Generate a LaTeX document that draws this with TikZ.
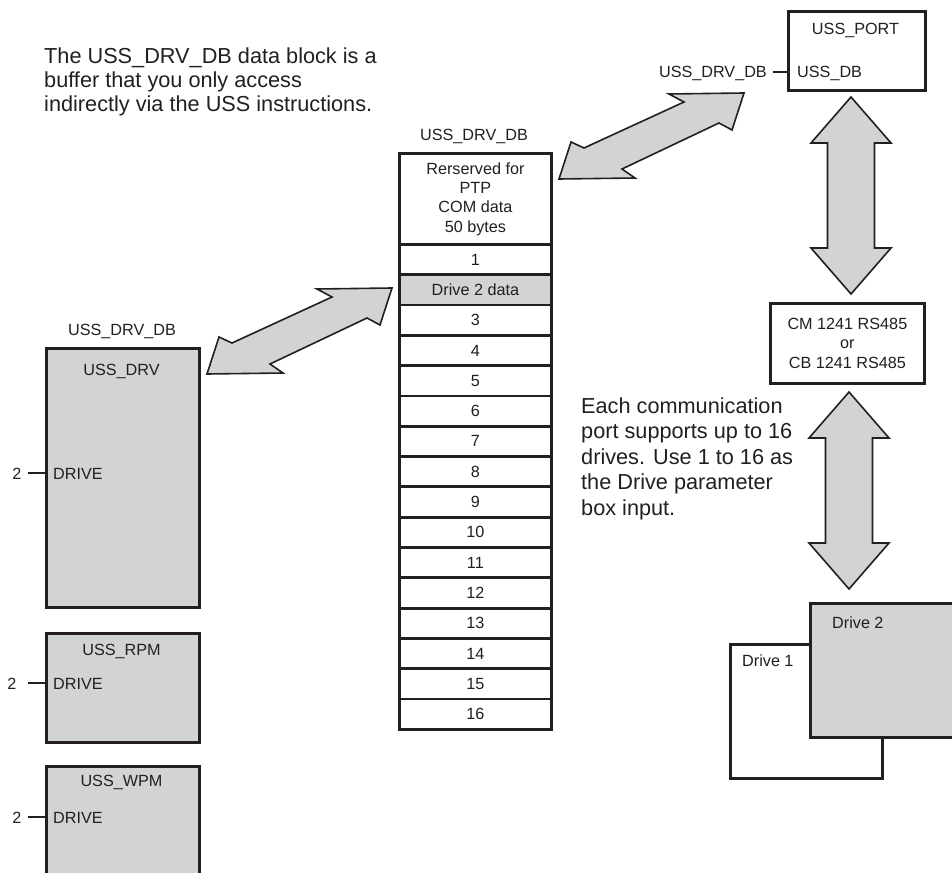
\documentclass[tikz,border=0pt]{standalone}
\usepackage{fontspec}
\setmainfont{Liberation Sans}
\definecolor{fillg}{RGB}{209,211,212}
\definecolor{ink}{RGB}{35,31,32}
\begin{document}
\begin{tikzpicture}[x=1pt,y=-1pt,
  box/.style={draw=ink, line width=2.8pt, inner sep=0pt, anchor=north west},
  cell/.style={box, minimum width=152pt, minimum height=30.31pt, font=\fontsize{16.2}{19}\selectfont, text=ink},
  lab/.style={font=\fontsize{16.2}{19.4}\selectfont, text=ink, inner sep=0pt},
  para/.style={font=\fontsize{21.7}{24}\selectfont, text=ink, inner sep=0pt, anchor=base west},
  pin/.style={draw=ink, line width=2.8pt},
  blk/.style={draw=ink, fill=fillg, line width=1.6pt, line join=miter},
  pics/diagarrow/.style={code={
    \draw[blk] (0,0) -- (12,-37) -- (25,-31) -- (125,-77) -- (110,-85) -- (185,-86)
      -- (173,-49) -- (160,-56) -- (63,-10) -- (76,-1) -- cycle;}},
  pics/vertarrow/.style={code={
    \draw[blk] (0,0) -- (40,46) -- (23.5,46) -- (23.5,151) -- (40,151) -- (0,197)
      -- (-40,151) -- (-23.5,151) -- (-23.5,46) -- (-40,46) -- cycle;}}]
\useasboundingbox (0,0) rectangle (952,872);
\clip (0,0) rectangle (952,872);
\fill[white] (0,0) rectangle (952,872);

% top explanatory text
\node[para] (t1) at (44,64) {The USS\_DRV\_DB data block is a};
\node[para] (t2) at (44,88) {buffer that you only access};
\node[para] (t3) at (44,112) {indirectly via the USS instructions.};

% middle data block table
\node[lab, anchor=base] (dblab) at (474,140) {USS\_DRV\_DB};
\node[box, minimum width=152pt, minimum height=91pt, align=center,
      font=\fontsize{16.2}{19.3}\selectfont, text=ink] (res) at (398,152)
      {Rerserved for\\PTP\\COM data\\50 bytes};
\foreach \i in {1,...,16}{
  \ifnum\i=2 \def\txt{Drive 2 data}\def\fl{fillg}\else \edef\txt{\i}\def\fl{white}\fi
  \node[cell, fill=\fl] (r\i) at (398,{243+(\i-1)*30.31}) {\txt};
}

% left instruction boxes
\node[lab, anchor=base] (drvdb) at (122,335) {USS\_DRV\_DB};
\node[box, fill=fillg, minimum width=153pt, minimum height=259pt] (drv) at (45,347) {};
\node[lab, anchor=base] (drvt) at (121.5,375) {USS\_DRV};
\node[lab, anchor=base west] (drvin) at (53,479) {DRIVE};
\node[lab, anchor=base] (drv2) at (17,479) {2};
\coordinate (drvp) at (28,473);
\draw[pin] (drvp) -- (drvp -| drv.west);

\node[box, fill=fillg, minimum width=153pt, minimum height=109pt] (rpm) at (45,632) {};
\node[lab, anchor=base] (rpmt) at (121.5,655) {USS\_RPM};
\node[lab, anchor=base west] (rpmin) at (53,689) {DRIVE};
\node[lab, anchor=base] (rpm2) at (12,689) {2};
\coordinate (rpmp) at (28,683);
\draw[pin] (rpmp) -- (rpmp -| rpm.west);

\node[box, fill=fillg, minimum width=153pt, minimum height=120pt] (wpm) at (45,765) {};
\node[lab, anchor=base] (wpmt) at (121.5,786) {USS\_WPM};
\node[lab, anchor=base west] (wpmin) at (53,823) {DRIVE};
\node[lab, anchor=base] (wpm2) at (17,823) {2};
\coordinate (wpmp) at (28,817);
\draw[pin] (wpmp) -- (wpmp -| wpm.west);

% right side
\node[box, minimum width=137pt, minimum height=79pt] (port) at (787,10) {};
\node[lab, anchor=base] (portt) at (855.5,35) {USS\_PORT};
\node[lab, anchor=base west] (portin) at (797,78) {USS\_DB};
\node[lab, anchor=base east] (portdb) at (767,78) {USS\_DRV\_DB};
\coordinate (portp) at (773,72);
\draw[pin] (portp) -- (portp -| port.west);

\node[box, minimum width=154pt, minimum height=80pt, align=center,
      font=\fontsize{16.2}{19.5}\selectfont, text=ink] (cm) at (769,302)
      {CM 1241 RS485\\or\\CB 1241 RS485};

\node[para] (e1) at (581,413) {Each communication};
\node[para] (e2) at (581,438.5) {port supports up to 16};
\node[para] (e3) at (581,464) {drives. Use 1 to 16 as};
\node[para] (e4) at (581,489.5) {the Drive parameter};
\node[para] (e5) at (581,515) {box input.};

\node[box, fill=white, minimum width=152pt, minimum height=134pt] (d1) at (729,643) {};
\node[lab, anchor=base west] (d1t) at (742,666) {Drive 1};
\node[box, fill=fillg, minimum width=160pt, minimum height=134pt] (d2) at (809,602) {};
\node[lab, anchor=base west] (d2t) at (832,628) {Drive 2};

% block arrows
\pic at (207,374) {diagarrow};
\pic at (559,179) {diagarrow};
\pic at (851,97) {vertarrow};
\pic at (849,392) {vertarrow};
\end{tikzpicture}
\end{document}
